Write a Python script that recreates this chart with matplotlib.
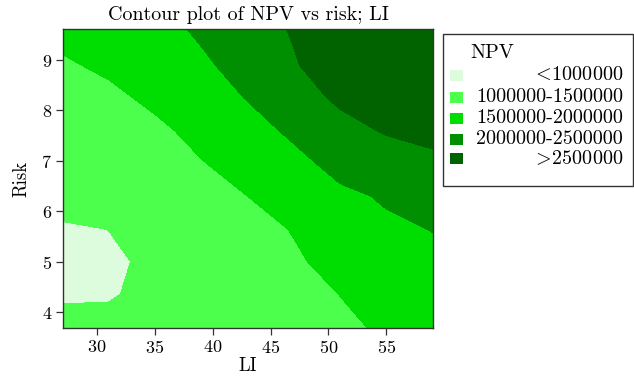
import numpy as np
import matplotlib
matplotlib.use('Agg')
import matplotlib.pyplot as plt
from matplotlib.patches import Rectangle

# ---- data ----
li = [27, 31, 35, 39, 43, 47, 51, 55, 59]
risk = [3.7, 4.35, 5.0, 5.65, 6.3, 6.95, 7.6, 8.25, 8.9, 9.6]
# NPV in millions; rows follow `risk`, columns follow `li`
npv_r37 = [1.027, 1.040, 1.070, 1.12, 1.20, 1.30, 1.420, 1.56, 1.72]
npv_r435 = [0.989, 0.988, 1.035, 1.12, 1.22, 1.36, 1.505, 1.66, 1.81]
npv_r50 = [0.977, 0.980, 1.022, 1.14, 1.27, 1.45, 1.620, 1.78, 1.92]
npv_r565 = [0.991, 1.001, 1.040, 1.20, 1.37, 1.52, 1.760, 1.94, 2.01]
npv_r63 = [1.030, 1.045, 1.100, 1.30, 1.50, 1.68, 1.920, 2.04, 2.19]
npv_r695 = [1.095, 1.120, 1.210, 1.48, 1.65, 1.88, 2.130, 2.27, 2.40]
npv_r76 = [1.186, 1.230, 1.410, 1.62, 1.83, 2.08, 2.350, 2.54, 2.63]
npv_r825 = [1.302, 1.400, 1.590, 1.77, 2.02, 2.30, 2.580, 2.75, 2.85]
npv_r89 = [1.444, 1.580, 1.710, 1.92, 2.18, 2.47, 2.720, 2.92, 3.02]
npv_r96 = [1.626, 1.720, 1.830, 2.07, 2.33, 2.53, 2.850, 3.05, 3.20]

levels = [0, 1000000, 1500000, 2000000, 2500000, 5000000]
legend_labels = [r'$<\!$1000000', '1000000-1500000', '1500000-2000000',
                 '2000000-2500000', r'$>\!$2500000']
colors = ['#DDFCDD', '#4DFF4D', '#00DD00', '#008F00', '#006300']

x_ticks = [30, 35, 40, 45, 50, 55]
y_ticks = [4, 5, 6, 7, 8, 9]

# ---- styling ----
plt.rcParams['font.family'] = 'cmr10'
plt.rcParams['mathtext.fontset'] = 'cm'
plt.rcParams['axes.formatter.use_mathtext'] = True
plt.rcParams['axes.unicode_minus'] = False

W, H = 634, 377
fig = plt.figure(figsize=(W / 100, H / 100), dpi=100)
ax = fig.add_axes([63.3 / W, 1 - 327.7 / H, (432.7 - 63.3) / W, (327.7 - 29.3) / H])

Z = np.array([npv_r37, npv_r435, npv_r50, npv_r565, npv_r63,
              npv_r695, npv_r76, npv_r825, npv_r89, npv_r96]) * 1e6
X, Y = np.meshgrid(li, risk)
ax.contourf(X, Y, Z, levels=levels, colors=colors)

ax.set_xlim(27.1, 59)
ax.set_ylim(3.69, 9.61)
ax.set_xticks(x_ticks)
ax.set_yticks(y_ticks)
ax.tick_params(labelsize=13, length=5, width=0.9, color='#333333', pad=3)
for s in ax.spines.values():
    s.set_linewidth(1.0)
    s.set_color('#333333')
ax.set_title('Contour plot of NPV vs risk; LI', fontsize=14.4, pad=7)
ax.set_xlabel('LI', fontsize=13.5, labelpad=1)
ax.set_ylabel('Risk', fontsize=13.5, labelpad=8)

# ---- legend drawn in figure pixel space ----
def fx(px):
    return px / W

def fy(py):
    return 1 - py / H

fig.patches.append(Rectangle((fx(443), fy(186)), fx(632.5) - fx(443), fy(34) - fy(186),
                             transform=fig.transFigure, facecolor='white',
                             edgecolor='#333333', linewidth=1.0))
fig.text(fx(470), fy(53), 'NPV', fontsize=14.5, ha='left', va='center')
row_y = [75.5, 97.5, 118.5, 139.0, 159.0]
for yy, col, lab in zip(row_y, colors, legend_labels):
    fig.patches.append(Rectangle((fx(450), fy(yy + 5.5)), fx(12.5), 11 / H,
                                 transform=fig.transFigure, facecolor=col,
                                 edgecolor='none'))
    fig.text(fx(623), fy(yy), lab, fontsize=14.5, ha='right', va='center')

fig.savefig('out.png', dpi=100)
